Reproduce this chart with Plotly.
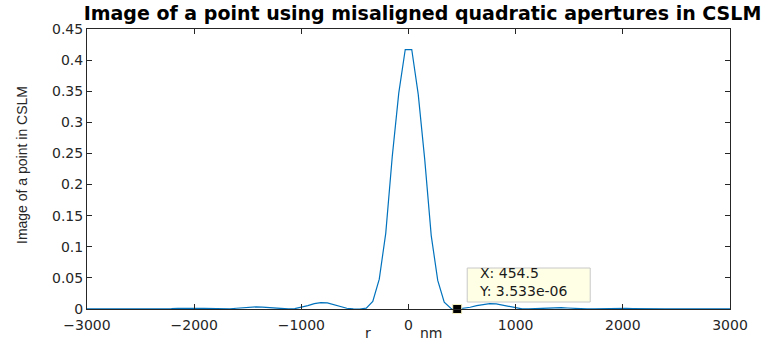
import numpy as np
import plotly.graph_objects as go

# Radial sample positions (nm): 100 evenly spaced samples across [-3000, 3000]
r_nm = np.linspace(-3000, 3000, 100)

# Intensity on the negative side, listed outward from the centre (-30.3, -90.9, ...)
left_half = [
    0.417, 0.347, 0.245, 0.122, 0.048, 0.012, 0.0015, 0.00002, 0.0002, 0.0012,
    0.0038, 0.0072, 0.0098, 0.0102, 0.0085, 0.0055, 0.0025, 0.0006, 0.00005, 0.0003,
    0.0012, 0.0022, 0.0030, 0.0033, 0.0030, 0.0022, 0.0012, 0.0004, 0.00005, 0.0001,
    0.0005, 0.0009, 0.0012, 0.0013, 0.0012, 0.0009, 0.0005, 0.0002, 0.00002, 0.0001,
    0.0003, 0.0005, 0.0006, 0.0006, 0.0005, 0.0003, 0.0001, 0.00002, 0.00005, 0.0001,
]
# Intensity on the positive side, listed outward from the centre (30.3, 90.9, ...)
right_half = [
    0.417, 0.345, 0.240, 0.118, 0.046, 0.011, 0.0012, 3.533e-06, 0.0008, 0.0028,
    0.0055, 0.0075, 0.0085, 0.0082, 0.0062, 0.0035, 0.0012, 0.0002, 0.0001, 0.0006,
    0.0013, 0.0019, 0.0022, 0.0021, 0.0016, 0.0009, 0.0003, 0.00005, 0.0001, 0.0004,
    0.0007, 0.0009, 0.0010, 0.0009, 0.0007, 0.0004, 0.0001, 0.00002, 0.0001, 0.0003,
    0.0004, 0.0005, 0.0005, 0.0004, 0.0003, 0.0001, 0.00003, 0.00005, 0.0001, 0.00015,
]
intensity = list(reversed(left_half)) + right_half

x_ticks = [-3000, -2000, -1000, 0, 1000, 2000, 3000]
y_ticks = [0, 0.05, 0.1, 0.15, 0.2, 0.25, 0.3, 0.35, 0.4, 0.45]
y_ticklabels = ["0", "0.05", "0.1", "0.15", "0.2", "0.25", "0.3", "0.35", "0.4", "0.45"]

# Data tip on the first zero to the right of the central peak
tip_index = 57
tip_x = float(r_nm[tip_index])
tip_y = intensity[tip_index]

axis_color = "#262626"
tick_font = dict(family="DejaVu Sans, Liberation Sans, sans-serif", size=14, color=axis_color)

fig = go.Figure()
fig.add_trace(go.Scatter(
    x=r_nm, y=intensity, mode="lines",
    line=dict(color="#0072BD", width=1.2),
    showlegend=False, hoverinfo="skip",
))
fig.add_trace(go.Scatter(
    x=[tip_x], y=[0], mode="markers",
    marker=dict(symbol="square", size=9, color="black",
                line=dict(color="#f5f0c0", width=1)),
    cliponaxis=False, showlegend=False, hoverinfo="skip",
))

# Data tip box, sized in pixels and anchored at the tip position
fig.add_shape(
    type="rect", xref="x", yref="y",
    xsizemode="pixel", ysizemode="pixel", xanchor=tip_x, yanchor=0,
    x0=10, x1=133, y0=7, y1=41,
    fillcolor="#ffffe6", line=dict(color="#c8c8c8", width=1), layer="above",
)
fig.add_annotation(
    x=tip_x, y=0, xref="x", yref="y",
    xanchor="left", yanchor="bottom", xshift=20, yshift=8,
    showarrow=False, align="left",
    text=f"X: {tip_x:.1f}<br>Y: {tip_y:.4g}",
    font=dict(family="DejaVu Sans, sans-serif", size=14, color="#1a1a1a"),
)

# Axis labels
label_font = dict(family="DejaVu Sans, sans-serif", size=14, color=axis_color)
fig.add_annotation(
    x=0.437, y=0, xref="paper", yref="paper",
    xanchor="center", yanchor="middle", yshift=-24,
    showarrow=False, text="r", font=label_font,
)
fig.add_annotation(
    x=0.535, y=0, xref="paper", yref="paper",
    xanchor="center", yanchor="middle", yshift=-24,
    showarrow=False, text="nm", font=label_font,
)
fig.add_annotation(
    x=0, y=0.5, xref="paper", yref="paper",
    xanchor="center", yanchor="middle", xshift=-65, yshift=4,
    showarrow=False, textangle=-90,
    text="Image of a point in CSLM",
    font=dict(family="Liberation Sans, Arial, sans-serif", size=14, color=axis_color),
)

fig.update_layout(
    width=764, height=343,
    margin=dict(l=87, r=34, t=29, b=34, autoexpand=False),
    paper_bgcolor="white", plot_bgcolor="white",
    title=dict(
        text="<b>Image of a point using misaligned quadratic apertures in CSLM</b>",
        x=0.553, xanchor="center", y=0.962, yanchor="middle",
        font=dict(family="DejaVu Sans, sans-serif", size=19, color="black"),
    ),
    xaxis=dict(
        range=[-3000, 3000], tickvals=x_ticks,
        ticks="inside", ticklen=5, tickcolor=axis_color, tickwidth=1,
        showline=True, linecolor=axis_color, linewidth=1, mirror="ticks",
        showgrid=False, zeroline=False, tickfont=tick_font,
        ticklabelstandoff=3, automargin=False,
    ),
    yaxis=dict(
        range=[0, 0.45], tickvals=y_ticks, ticktext=y_ticklabels,
        ticks="inside", ticklen=5, tickcolor=axis_color, tickwidth=1,
        showline=True, linecolor=axis_color, linewidth=1, mirror="ticks",
        showgrid=False, zeroline=False, tickfont=tick_font,
        automargin=False,
    ),
)

fig.write_html("out.html")
